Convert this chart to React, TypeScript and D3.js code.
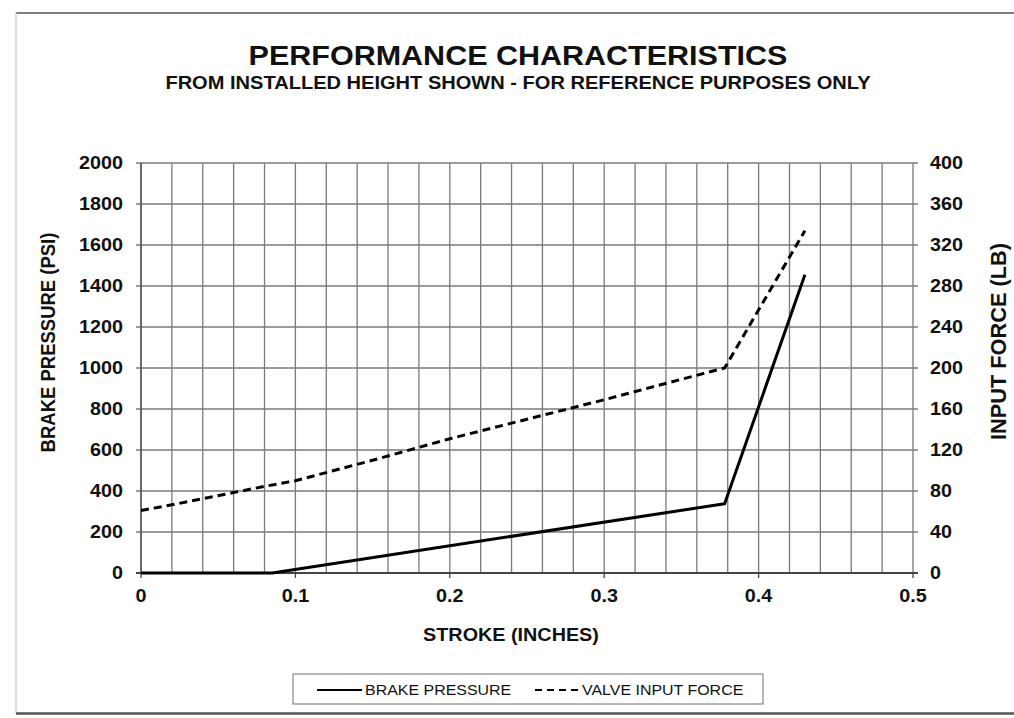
import React from 'react';
import * as d3 from 'd3';

// stroke (inches) vs brake pressure (psi, left axis)
const brakeStroke = [0, 0.085, 0.378, 0.43];
const brakePsi = [0, 0, 338, 1455];

// stroke (inches) vs valve input force (lb, right axis)
const valveStroke = [0, 0.02, 0.04, 0.06, 0.08, 0.1, 0.15, 0.2, 0.25, 0.3, 0.35, 0.378, 0.43];
const valveLb = [61, 66.5, 72.5, 78.5, 84.5, 90, 110, 131, 150, 169, 189, 200, 334];

const xTicks = [0, 0.1, 0.2, 0.3, 0.4, 0.5];
const psiTicks = [0, 200, 400, 600, 800, 1000, 1200, 1400, 1600, 1800, 2000];
const lbTicks = [0, 40, 80, 120, 160, 200, 240, 280, 320, 360, 400];
const legendLabels = ['BRAKE PRESSURE', 'VALVE INPUT FORCE'];

const W = 1014;
const H = 718;
const FONT = '"Liberation Sans", Arial, sans-serif';
const SX = 1.12; // the source picture is stretched sideways a bit

const App = () => {
  const x = d3.scaleLinear().domain([0, 0.5]).range([141, 913]);
  const yL = d3.scaleLinear().domain([0, 2000]).range([573, 163]);
  const yR = d3.scaleLinear().domain([0, 400]).range([573, 163]);

  const minorX = d3.range(0, 25.5, 1).map(i => i * 0.02);

  const brakeLine = d3.line<number>()
    .x((d, i) => x(brakeStroke[i]))
    .y(d => yL(d));
  const valveLine = d3.line<number>()
    .x((d, i) => x(valveStroke[i]))
    .y(d => yR(d));

  const txt = (tx: number, ty: number, s: string, size: number, opts: any = {}) => (
    <g transform={`translate(${tx},${ty}) scale(${opts.sx ?? SX},1)${opts.rot ? ' rotate(-90)' : ''}`}>
      <text
        fontFamily={FONT}
        fontSize={size}
        fontWeight={opts.weight ?? 'bold'}
        textAnchor={opts.anchor ?? 'middle'}
        fill="#111"
        textLength={opts.len}
        lengthAdjust={opts.len ? 'spacingAndGlyphs' : undefined}
      >{s}</text>
    </g>
  );

  return (
    <svg width={W} height={H} style={{ position: 'absolute', left: 0, top: 0, background: '#fff' }}>
      {/* frame */}
      <line x1={16} x2={W} y1={13} y2={13} stroke="#555" strokeWidth={1.5} />
      <line x1={16} x2={16} y1={13} y2={713} stroke="#bbb" strokeWidth={1} />
      <line x1={16} x2={W} y1={713.5} y2={713.5} stroke="#555" strokeWidth={2.5} />

      {/* titles */}
      {txt(518, 65, 'PERFORMANCE CHARACTERISTICS', 28, { sx: 1.09 })}
      {txt(518, 89, 'FROM INSTALLED HEIGHT SHOWN - FOR REFERENCE PURPOSES ONLY', 18, { sx: 1.115 })}

      {/* grid */}
      {minorX.map((v, i) => (
        <line key={'gx' + i} x1={x(v)} x2={x(v)} y1={yL(2000)} y2={yL(0)} stroke="#7a7a7a" strokeWidth={1.3} />
      ))}
      {psiTicks.map(v => (
        <line key={'gy' + v} x1={x(0) - 5} x2={x(0.5) + 5} y1={yL(v)} y2={yL(v)} stroke="#7a7a7a" strokeWidth={1.3} />
      ))}
      <line x1={x(0)} x2={x(0)} y1={yL(2000)} y2={yL(0)} stroke="#555" strokeWidth={1.5} />
      <line x1={x(0) - 5} x2={x(0.5) + 5} y1={yL(0)} y2={yL(0)} stroke="#444" strokeWidth={2} />
      {xTicks.map(v => (
        <line key={'xt' + v} x1={x(v)} x2={x(v)} y1={yL(0)} y2={yL(0) + 5} stroke="#444" strokeWidth={1.3} />
      ))}

      {/* tick labels */}
      {psiTicks.map(v => (
        <React.Fragment key={'pl' + v}>{txt(123, yL(v) + 6, String(v), 17.5, { anchor: 'end', sx: 1.13 })}</React.Fragment>
      ))}
      {lbTicks.map(v => (
        <React.Fragment key={'rl' + v}>{txt(930, yR(v) + 6, String(v), 17.5, { anchor: 'start', sx: 1.13 })}</React.Fragment>
      ))}
      {xTicks.map(v => (
        <React.Fragment key={'xl' + v}>{txt(x(v), 602, String(v), 17.5, { sx: 1.13 })}</React.Fragment>
      ))}

      {/* axis titles */}
      {txt(511, 641, 'STROKE (INCHES)', 18.5, { sx: 1.07 })}
      {txt(55, 342.5, 'BRAKE PRESSURE (PSI)', 18.5, { rot: true })}
      {txt(1006, 341.5, 'INPUT FORCE (LB)', 19, { rot: true, len: 197 })}

      {/* series */}
      <path d={valveLine(valveLb) || ''} fill="none" stroke="#000" strokeWidth={3} strokeDasharray="8,5" />
      <path d={brakeLine(brakePsi) || ''} fill="none" stroke="#000" strokeWidth={3} strokeLinejoin="round" />

      {/* legend */}
      <rect x={293} y={674} width={470} height={30} fill="#fff" stroke="#888" strokeWidth={1.2} />
      <line x1={317} x2={362} y1={690} y2={690} stroke="#000" strokeWidth={2.2} />
      {txt(365, 695, legendLabels[0], 15.5, { anchor: 'start', weight: 'normal', sx: 1.03 })}
      <line x1={535} x2={579} y1={690} y2={690} stroke="#000" strokeWidth={2.2} strokeDasharray="7,5" />
      {txt(582, 695, legendLabels[1], 15.5, { anchor: 'start', weight: 'normal', sx: 1.03 })}
    </svg>
  );
};

export default App;
